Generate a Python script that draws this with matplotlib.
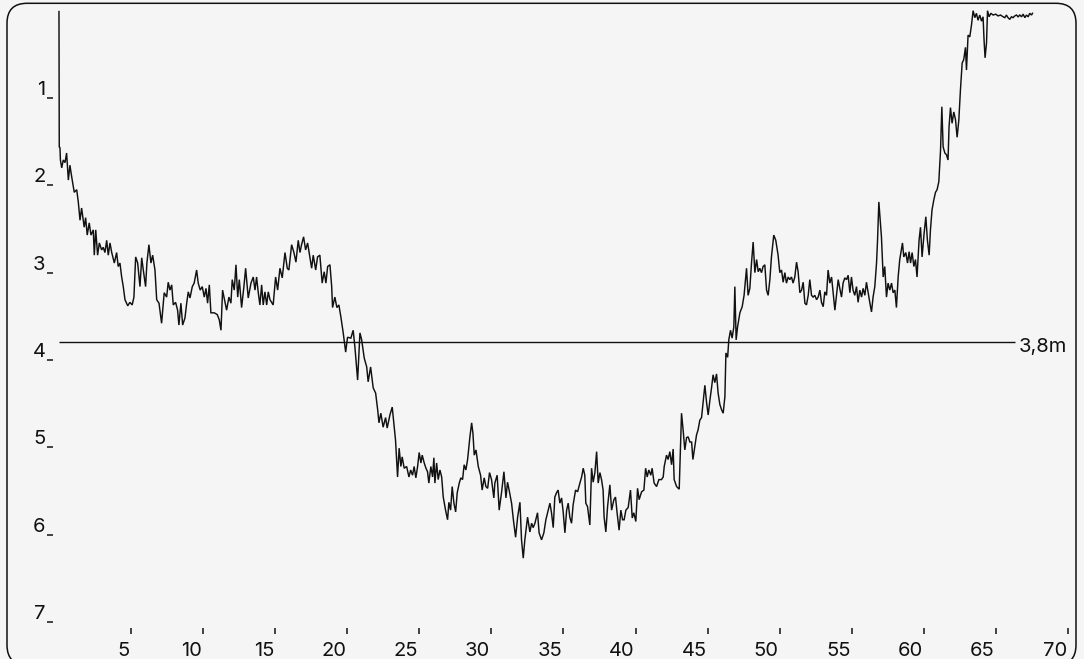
import matplotlib
matplotlib.use("Agg")
import matplotlib.pyplot as plt
from matplotlib.patches import FancyBboxPatch
from matplotlib.transforms import IdentityTransform, ScaledTranslation, blended_transform_factory

# distance along the profile and depth (m)
dist = [
    0.00, 0.02, 0.07, 0.10, 0.19, 0.30, 0.42, 0.53, 0.65, 0.76, 0.88, 1.06, 1.23, 1.34, 1.46, 1.57,
    1.75, 1.85, 1.96, 2.10, 2.22, 2.38, 2.45, 2.55, 2.68, 2.80, 2.96, 3.07, 3.19, 3.31, 3.42, 3.54,
    3.66, 3.84, 4.00, 4.11, 4.23, 4.35, 4.46, 4.58, 4.77, 4.92, 5.08, 5.20, 5.32, 5.46, 5.62, 5.74,
    5.85, 6.01, 6.10, 6.24, 6.38, 6.50, 6.66, 6.78, 6.94, 7.12, 7.30, 7.47, 7.58, 7.70, 7.82, 7.93,
    8.09, 8.23, 8.32, 8.46, 8.58, 8.74, 8.86, 8.97, 9.09, 9.25, 9.38, 9.55, 9.66, 9.80, 9.94, 10.08,
    10.20, 10.31, 10.43, 10.54, 10.77, 10.98, 11.12, 11.24, 11.35,
    11.63, 11.79, 11.93, 12.02, 12.16, 12.28, 12.40, 12.51, 12.67, 12.83, 12.95, 13.13, 13.32, 13.48,
    13.60, 13.71, 13.82, 13.94, 14.06, 14.17, 14.29, 14.41, 14.52, 14.64, 14.86, 15.03, 15.17, 15.33,
    15.49, 15.68, 15.84, 15.95, 16.14, 16.30, 16.44, 16.60, 16.72, 16.83, 16.97, 17.11, 17.25, 17.41,
    17.53, 17.64, 17.81, 17.94, 18.10, 18.26, 18.40, 18.52, 18.64, 18.80, 18.92, 18.98, 19.14, 19.28,
    19.42, 19.56, 19.72, 19.89, 20.02, 20.25, 20.41, 20.53, 20.72, 20.88, 21.00, 21.18, 21.35, 21.45,
    21.62, 21.80, 21.97, 22.11, 22.20, 22.33, 22.49, 22.66, 22.77, 22.96, 23.12, 23.26, 23.35,
    23.49, 23.60, 23.72, 23.81, 23.95, 24.12, 24.28, 24.40, 24.53, 24.64, 24.76, 24.88, 24.99, 25.11,
    25.20, 25.34, 25.46, 25.57, 25.66, 25.80, 25.92, 26.01, 26.08, 26.20, 26.31, 26.43, 26.55, 26.66,
    26.82, 26.96, 27.05, 27.17, 27.28, 27.40, 27.52, 27.63, 27.77, 27.88, 28.00, 28.11, 28.23, 28.35,
    28.51, 28.63, 28.72, 28.81, 28.93, 29.09, 29.25, 29.36, 29.50, 29.62, 29.74, 29.87, 30.01, 30.17,
    30.24, 30.40, 30.54, 30.71, 30.87, 31.01, 31.12, 31.23, 31.40, 31.54, 31.68, 31.82, 31.98, 32.09,
    32.21, 32.32, 32.51, 32.67, 32.79, 32.90, 33.02, 33.20, 33.31, 33.48, 33.64, 33.78, 33.90, 34.06,
    34.17, 34.29, 34.40, 34.52, 34.63, 34.75, 34.87, 34.98,
    35.10, 35.22, 35.33, 35.44, 35.56, 35.67, 35.84, 35.98, 36.14, 36.26, 36.37, 36.48, 36.55, 36.67,
    36.83, 36.95, 37.06, 37.18, 37.30, 37.41, 37.53, 37.64, 37.75, 37.82, 37.94, 38.06, 38.22, 38.34,
    38.50, 38.61, 38.72, 38.86, 38.98, 39.10, 39.21, 39.33, 39.49, 39.65, 39.77, 39.88, 40.02, 40.14,
    40.25, 40.42, 40.58, 40.70, 40.81, 40.92, 41.06, 41.15, 41.29, 41.46, 41.62, 41.80, 41.92, 41.99,
    42.15, 42.26, 42.38, 42.50, 42.61, 42.68, 42.85, 43.03, 43.19, 43.30, 43.42, 43.54, 43.65, 43.77,
    43.89, 43.98, 44.11, 44.23, 44.34, 44.46, 44.58, 44.69, 44.81, 44.93, 45.04, 45.16, 45.28, 45.38,
    45.50, 45.62, 45.73, 45.85, 45.97, 46.08, 46.20, 46.27, 46.39, 46.47, 46.59, 46.70, 46.82, 46.89,
    46.98,
    47.08, 47.24, 47.40, 47.53, 47.70, 47.81, 47.93, 48.05, 48.16, 48.28, 48.40, 48.51, 48.62, 48.74,
    48.85, 48.97, 49.09, 49.20, 49.32, 49.43, 49.59, 49.73, 49.89, 50.01, 50.13, 50.24, 50.36, 50.47,
    50.59, 50.70, 50.82, 50.93, 51.05, 51.17, 51.28, 51.40, 51.52, 51.63, 51.75, 51.86, 51.98, 52.09,
    52.21, 52.32, 52.44, 52.56, 52.67, 52.79, 52.90, 53.02, 53.13, 53.25, 53.36, 53.48, 53.60, 53.71,
    53.83, 53.94, 54.06, 54.17, 54.29, 54.40, 54.52, 54.64, 54.75, 54.87, 54.98, 55.09, 55.21, 55.33,
    55.44, 55.56, 55.68, 55.79, 55.91, 56.02, 56.14, 56.25, 56.37, 56.48, 56.60, 56.72, 56.79, 56.88,
    57.06, 57.18, 57.29, 57.41, 57.52, 57.64, 57.76, 57.87, 57.99, 58.10, 58.22, 58.33, 58.52, 58.61,
    58.75, 58.87, 58.98, 59.08, 59.19, 59.31, 59.42, 59.53, 59.67, 59.77, 59.88, 60.02, 60.14, 60.25,
    60.37, 60.46, 60.57, 60.69, 60.81, 60.92, 61.04, 61.16, 61.25, 61.34, 61.46, 61.57, 61.68, 61.75,
    61.85, 61.96, 62.08, 62.20, 62.31, 62.43, 62.54, 62.66, 62.77, 62.89, 62.96, 63.07, 63.19, 63.31,
    63.42, 63.54, 63.65, 63.76, 63.88, 64.00, 64.11, 64.18, 64.25, 64.35, 64.42, 64.53, 64.65, 64.81,
    64.99, 65.15, 65.32, 65.50, 65.62, 65.73, 65.84, 65.96, 66.08, 66.19, 66.31, 66.43, 66.54, 66.66,
    66.78, 66.89, 67.01, 67.12, 67.24, 67.35, 67.47, 67.54,
]
depth = [
    0.01, 1.56, 1.57, 1.71, 1.80, 1.71, 1.74, 1.63, 1.94, 1.77, 1.90, 2.08, 2.05, 2.19, 2.40, 2.26,
    2.48, 2.37, 2.57, 2.43, 2.57, 2.51, 2.80, 2.51, 2.80, 2.66, 2.74, 2.71, 2.77, 2.63, 2.80, 2.66,
    2.77, 2.89, 2.77, 2.93, 2.89, 3.05, 3.16, 3.31, 3.38, 3.34, 3.37, 3.28, 2.82, 2.89, 3.16, 2.83,
    2.97, 3.16, 2.89, 2.68, 2.89, 2.80, 2.97, 3.31, 3.35, 3.58, 3.23, 3.28, 3.11, 3.20, 3.14, 3.37,
    3.34, 3.43, 3.60, 3.35, 3.60, 3.52, 3.35, 3.22, 3.29, 3.16, 3.12, 2.97, 3.12, 3.20, 3.16, 3.28,
    3.18, 3.35, 3.14, 3.46, 3.46, 3.48, 3.54, 3.66, 3.20,
    3.43, 3.28, 3.35, 3.08, 3.20, 2.91, 3.28, 3.08, 3.40, 3.16, 2.95, 3.29, 3.12, 3.05,
    3.20, 3.05, 3.22, 3.37, 3.14, 3.37, 3.22, 3.37, 3.22, 3.31, 3.37, 3.05, 3.20, 2.95,
    3.06, 2.77, 2.95, 2.97, 2.68, 2.77, 2.88, 2.63, 2.77, 2.68, 2.59, 2.74, 2.66, 2.83,
    2.95, 2.80, 2.97, 2.82, 2.80, 3.12, 2.99, 3.12, 2.93, 2.91, 3.16, 3.40, 3.28, 3.40,
    3.37, 3.51, 3.69, 3.91, 3.74, 3.75, 3.66, 3.85, 4.23, 3.69, 3.77, 3.98, 4.08, 4.25,
    4.08, 4.32, 4.38, 4.57, 4.72, 4.61, 4.77, 4.66, 4.78, 4.63, 4.54, 4.77, 4.92,
    5.34, 5.01, 5.22, 5.11, 5.24, 5.22, 5.34, 5.26, 5.32, 5.22, 5.35, 5.22, 5.06, 5.18,
    5.09, 5.18, 5.24, 5.28, 5.41, 5.22, 5.34, 5.12, 5.41, 5.18, 5.37, 5.26, 5.34, 5.57,
    5.72, 5.83, 5.63, 5.72, 5.45, 5.64, 5.74, 5.52, 5.41, 5.35, 5.37, 5.20, 5.26, 5.14,
    4.88, 4.72, 4.84, 5.09, 5.03, 5.22, 5.32, 5.49, 5.35, 5.45, 5.47, 5.29, 5.37, 5.58,
    5.41, 5.32, 5.72, 5.51, 5.28, 5.58, 5.40, 5.49, 5.64, 5.85, 6.03, 5.80, 5.63, 6.06,
    6.27, 6.06, 5.80, 5.97, 5.87, 5.92, 5.87, 5.75, 5.98, 6.06, 5.98, 5.83, 5.75, 5.64,
    5.75, 5.92, 5.57, 5.52, 5.49, 5.64, 5.58, 5.74,
    5.98, 5.72, 5.64, 5.80, 5.87, 5.66, 5.49, 5.51, 5.41, 5.34, 5.24, 5.32, 5.64, 5.68,
    5.89, 5.24, 5.40, 5.29, 5.05, 5.41, 5.29, 5.37, 5.49, 5.80, 5.97, 5.68, 5.43, 5.72,
    5.60, 5.57, 5.75, 5.95, 5.72, 5.83, 5.83, 5.72, 5.69, 5.49, 5.81, 5.75, 5.85, 5.47,
    5.60, 5.51, 5.49, 5.24, 5.34, 5.26, 5.32, 5.24, 5.41, 5.45, 5.37, 5.37, 5.34, 5.22,
    5.09, 5.14, 5.05, 5.20, 5.02, 5.37, 5.45, 5.48, 4.61, 4.80, 5.03, 4.89, 4.88, 4.94,
    4.94, 5.14, 4.99, 4.86, 4.80, 4.69, 4.66, 4.48, 4.29, 4.49, 4.63, 4.46, 4.31, 4.17,
    4.26, 4.16, 4.38, 4.51, 4.57, 4.61, 4.42, 3.92, 3.97, 3.77, 3.66, 3.75, 3.62, 3.16,
    3.77,
    3.62, 3.46, 3.39, 3.26, 2.95, 3.26, 3.18, 2.88, 2.65, 3.00, 2.85, 2.99, 2.95, 3.00,
    2.93, 2.91, 3.20, 3.26, 3.08, 2.82, 2.57, 2.63, 2.80, 3.00, 2.97, 3.11, 3.00, 3.12,
    3.05, 3.08, 3.05, 3.12, 3.05, 2.88, 2.99, 3.23, 3.20, 3.11, 3.35, 3.37, 3.26, 3.08,
    3.26, 3.28, 3.26, 3.31, 3.28, 3.20, 3.34, 3.39, 3.22, 3.26, 2.97, 3.12, 3.05, 3.23,
    3.43, 3.26, 3.08, 3.18, 3.28, 3.12, 3.06, 3.08, 3.03, 3.23, 3.05, 3.20, 3.26, 3.16,
    3.34, 3.20, 3.28, 3.18, 3.26, 3.11, 3.23, 3.34, 3.45, 3.28, 3.16, 2.89, 2.63, 2.19,
    2.59, 3.05, 2.93, 3.28, 3.12, 3.20, 3.12, 3.23, 3.20, 3.40, 3.05, 2.85, 2.66, 2.82,
    2.77, 2.89, 2.76, 2.89, 2.77, 2.93, 2.85, 3.05, 2.63, 2.48, 2.82, 2.55, 2.36, 2.63,
    2.80, 2.51, 2.28, 2.17, 2.08, 2.05, 1.96, 1.60, 1.10, 1.56, 1.63, 1.65, 1.71, 1.33,
    1.11, 1.29, 1.16, 1.25, 1.45, 1.25, 0.91, 0.60, 0.56, 0.42, 0.68, 0.28, 0.30, 0.16,
    0.00, 0.08, 0.03, 0.11, 0.05, 0.12, 0.07, 0.34, 0.54, 0.37, 0.00, 0.07, 0.03, 0.05,
    0.04, 0.06, 0.05, 0.07, 0.08, 0.05, 0.08, 0.10, 0.07, 0.08, 0.06, 0.05, 0.07, 0.05,
    0.07, 0.04, 0.08, 0.05, 0.07, 0.03, 0.05, 0.03,
]

dist_ticks = [5, 10, 15, 20, 25, 30, 35, 40, 45, 50, 55, 60, 65, 70]
depth_ticks = [1, 2, 3, 4, 5, 6, 7]
ref_depth = 3.8
ref_label = "3,8m"
ref_end = 66.3

BG, INK = "#f5f5f5", "#111111"
plt.rcParams["font.family"] = ["Inter", "DejaVu Sans"]
plt.rcParams["font.size"] = 14.5

fig = plt.figure(figsize=(10.84, 6.59), dpi=100, facecolor=BG)
ax = fig.add_axes([0.0544, 0.0470, 0.9308, 0.9368])
ax.set_facecolor(BG)

# rounded frame, drawn in pixels (bottom edge runs off the canvas)
frame = FancyBboxPatch((7, -6), 1069, 661.7, boxstyle="round,pad=0,rounding_size=20",
                       transform=IdentityTransform(), fill=False, ec=INK, lw=1.1)
fig.add_artist(frame)

ax.plot(dist, depth, color=INK, lw=1.05, clip_on=False, solid_joinstyle="miter")
ax.hlines(ref_depth, 0, ref_end, color=INK, lw=1.0)
ax.text(70, ref_depth, ref_label, ha="right", va="baseline", color=INK,
        transform=ax.transData + ScaledTranslation(-0.01, -0.10, fig.dpi_scale_trans))

ax.set_xlim(0, 70)
ax.set_ylim(7.07, 0)
for s in ax.spines.values():
    s.set_visible(False)
ax.spines["left"].set_position(("outward", 4.3))

ax.set_xticks(dist_ticks)
ax.set_yticks(depth_ticks)
ax.tick_params(axis="both", direction="out", length=4.3, width=1.1, color=INK,
               labelbottom=False, labelleft=False)

xt = blended_transform_factory(ax.transData, ax.transAxes)
for v in dist_ticks:
    ax.text(v, 0, str(v), ha="right", va="baseline", color=INK,
            transform=xt + ScaledTranslation(-0.01, -0.28, fig.dpi_scale_trans))
yt = blended_transform_factory(ax.transAxes, ax.transData)
for v in depth_ticks:
    ax.text(0, v, str(v), ha="right", va="baseline", color=INK,
            transform=yt + ScaledTranslation(-0.135, 0.03, fig.dpi_scale_trans))

fig.savefig("out.png", dpi=100, facecolor=BG)
